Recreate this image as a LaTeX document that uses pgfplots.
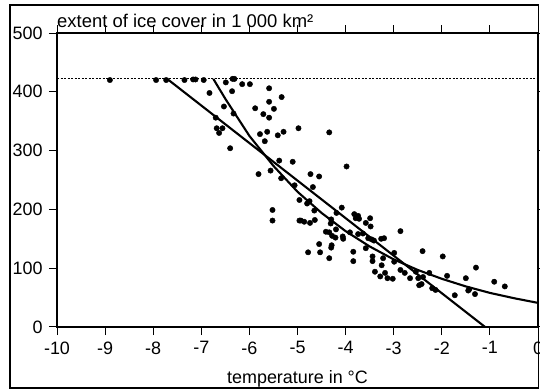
\documentclass[border=0pt]{standalone}
\usepackage{pgfplots}
\pgfplotsset{compat=1.18}
\usepackage{fontspec}
\setmainfont{Liberation Sans}
\begin{document}
\begin{tikzpicture}
\useasboundingbox (0bp,0bp) rectangle (540bp,390bp);
\draw[line width=1.5bp] (10bp,2bp) rectangle (538.5bp,385bp);
\begin{axis}[
  at={(57bp,63bp)}, anchor=south west,
  scale only axis, width=481bp, height=294bp,
  xmin=-10, xmax=0, ymin=0, ymax=500,
  xtick={-10,-9,-8,-7,-6,-5,-4,-3,-2,-1,0},
  xticklabels={-10,-9,-8,-7,-6,-5,-4,-3,-2,-1,0},
  ytick={0,100,200,300,400,500},
  yticklabels={0,100,200,300,400,500},
  tick align=outside, major tick length=8bp,
  tick style={black, line width=1bp},
  axis line style={line width=1.3bp},
  tick label style={font=\fontsize{18}{21}\selectfont},
  xticklabel style={yshift=-3bp},
  yticklabel style={xshift=-3bp},
  clip=true,
]
\addplot[black, line width=0.8bp, dash pattern=on 2bp off 1.5bp] coordinates {(-10,422) (0,422)};
\addplot[black, line width=2.1bp] coordinates {(-7.71,422) (-1.1,0)};
\addplot[black, line width=2.1bp] coordinates {
(-6.75,422) (-6.5,388) (-6,325) (-5.5,274) (-5,230) (-4.5,194) (-4,163) (-3.5,137)
(-3,115) (-2.5,97) (-2,82) (-1.5,69) (-1,58) (-0.5,49) (0,41)};
\addplot[only marks, mark=*, mark size=2.7bp, black] coordinates {
(-8.90,420) (-7.94,420) (-7.73,420) (-7.35,420) (-7.17,421) (-7.12,421) (-6.95,420) (-6.35,422) (-6.31,422)
(-6.83,398) (-6.49,416) (-6.15,413) (-5.99,413) (-6.36,401) (-5.59,406) (-5.33,391) (-5.59,383) (-5.88,372)
(-5.71,362) (-5.49,371) (-5.59,356) (-6.53,375) (-6.33,363) (-6.70,356) (-6.68,338) (-6.63,330) (-6.56,338)
(-6.40,304) (-5.78,328) (-5.63,332) (-5.41,326) (-5.29,332) (-4.98,338) (-5.68,316) (-4.34,331) (-5.38,283)
(-5.10,281) (-3.98,273) (-5.81,260) (-5.56,266) (-5.34,253) (-4.73,260) (-4.55,256) (-5.06,241) (-4.68,238)
(-4.96,216) (-5.52,199) (-5.52,181) (-4.96,181)
(-4.75,214) (-4.80,210) (-4.65,198) (-4.08,203) (-4.19,194) (-4.30,183) (-3.82,192) (-3.74,189) (-3.79,185)
(-3.72,184) (-3.49,185) (-3.58,177) (-3.48,171)
(-4.93,181) (-4.86,179) (-4.74,177) (-4.64,182) (-4.31,176) (-4.41,162) (-4.34,161) (-4.20,166) (-4.28,155)
(-4.21,152) (-4.06,154) (-4.05,150) (-3.91,161) (-3.74,158) (-3.64,159) (-3.53,151) (-3.46,149) (-3.41,147)
(-3.26,150) (-3.20,151) (-2.86,163)
(-4.55,141) (-4.29,139) (-4.30,135) (-4.78,127) (-4.53,127) (-4.34,117) (-3.84,128) (-3.84,112) (-3.58,134)
(-3.44,120) (-3.44,112) (-3.22,117) (-3.25,105) (-2.99,126) (-2.99,111)
(-3.39,94) (-3.28,86) (-3.18,92) (-3.13,83) (-3.02,82) (-2.86,97) (-2.77,92) (-2.66,83) (-2.54,94) (-2.49,83)
(-2.47,71) (-2.42,73) (-2.40,129) (-2.39,85) (-2.26,92) (-2.20,66) (-2.13,63) (-1.98,120) (-1.89,87) (-1.73,54)
(-1.50,83) (-1.45,62) (-1.43,64) (-1.31,56) (-1.29,101) (-0.91,77) (-0.69,69)};
\end{axis}
\node[anchor=base west, font=\fontsize{18.5}{21}\selectfont, inner sep=0pt] at (57bp,362bp) {extent of ice cover in 1 000 km²};
\node[anchor=base, font=\fontsize{18}{21}\selectfont, inner sep=0pt] at (297.5bp,7bp) {temperature in °C};
\end{tikzpicture}
\end{document}
